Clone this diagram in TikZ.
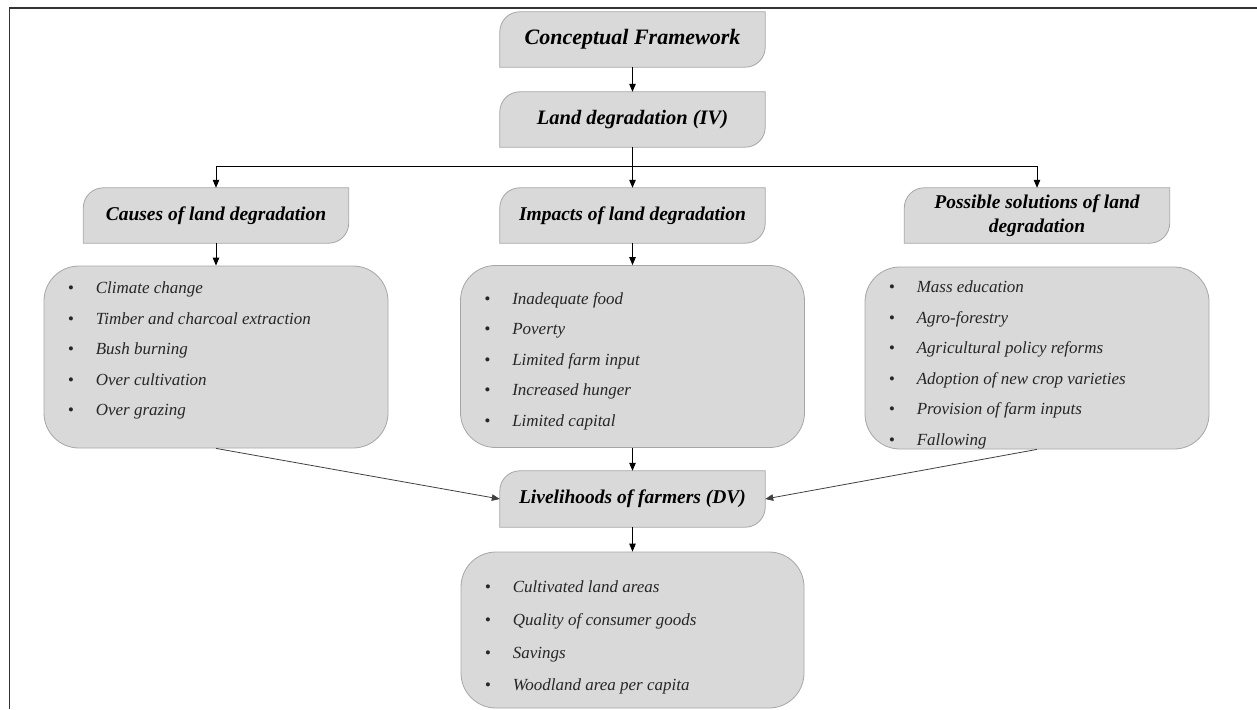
\documentclass[tikz,border=0pt]{standalone}
\usepackage{fontspec}
\setmainfont{Liberation Serif}
\usetikzlibrary{arrows.meta,backgrounds}
\definecolor{boxfill}{HTML}{D9D9D9}
\definecolor{boxline}{HTML}{A6A6A6}
\definecolor{itemtext}{HTML}{262626}
\newcommand{\itm}[1]{\makebox[28pt][l]{\textbullet}#1}
\tikzset{
	head node/.style={minimum width=265pt, minimum height=55pt, inner sep=2pt, align=center, font=\fontsize{19.5}{24}\selectfont\bfseries\itshape},
	head shape/.style={draw=boxline, fill=boxfill, line width=0.8pt},
	list box/.style={draw=boxline, fill=boxfill, line width=0.8pt, rounded corners=35pt, minimum width=344pt, minimum height=182pt},
	list items/.style={anchor=north west, inner sep=0pt, align=left, font=\fontsize{17}{30.5}\selectfont\itshape, text=itemtext},
	arr/.style={-{Triangle[length=8pt,width=6.5pt]}, line width=0.8pt},
	link/.style={arr, draw=black!75},
	frame line/.style={draw=black!80, line width=1.6pt},
}

\begin{document}
\begin{tikzpicture}[x=1pt, y=-1pt]
  \useasboundingbox (0,0) rectangle (1257,709);
  \draw[frame line] (9.5,709) -- (9.5,8) -- (1257,8);

  % headers
  \node[head node, font=\fontsize{22}{26}\selectfont\bfseries\itshape] (cf) at (632.5,39.5) {Conceptual Framework};
  \node[head node, font=\fontsize{20.5}{24}\selectfont\bfseries\itshape] (ld) at (632.5,119.5) {Land degradation (IV)};
  \node[head node] (cause) at (216,215.5) {Causes of land degradation};
  \node[head node] (impact) at (632.5,215.5) {Impacts of land degradation};
  \node[head node] (sol) at (1037,215.5) {Possible solutions of land\\degradation};
  \node[head node, minimum height=56pt] (live) at (632.5,499) {Livelihoods of farmers (DV)};

  % lists
  \node[list box] (causelist) at (216,357) {};
  \node[list items] (causeitems) at ([shift={(24,16)}]causelist.north west) {\itm{Climate change}\\\itm{Timber and charcoal extraction}\\\itm{Bush burning}\\\itm{Over cultivation}\\\itm{Over grazing}};
  \node[list box] (impactlist) at (632.5,356.5) {};
  \node[list items] (impactitems) at ([shift={(24,27)}]impactlist.north west) {\itm{Inadequate food}\\\itm{Poverty}\\\itm{Limited farm input}\\\itm{Increased hunger}\\\itm{Limited capital}};
  \node[list box] (sollist) at (1037,358) {};
  \node[list items] (solitems) at ([shift={(24,14)}]sollist.north west) {\itm{Mass education}\\\itm{Agro-forestry}\\\itm{Agricultural policy reforms}\\\itm{Adoption of new crop varieties}\\\itm{Provision of farm inputs}\\\itm{Fallowing}};
  \node[list box, minimum width=343pt, minimum height=156pt] (livelist) at (632.5,630) {};
  \node[list items, font=\fontsize{17}{32.7}\selectfont\itshape] (liveitems) at ([shift={(24,29)}]livelist.north west) {\itm{Cultivated land areas}\\\itm{Quality of consumer goods}\\\itm{Savings}\\\itm{Woodland area per capita}};

  % header shapes
  \begin{scope}[on background layer]
    \foreach \n in {cf,ld,cause,impact,sol,live}
      \draw[head shape] (\n.north) -- (\n.north east) [rounded corners=20pt] -- (\n.south east) [sharp corners] -- (\n.south west) [rounded corners=20pt] -- (\n.north west) [sharp corners] -- cycle;
  \end{scope}

  % connectors
  \coordinate (split) at (632.5,166);
  \draw[arr] (cf) -- (ld);
  \draw[line width=0.8pt] (ld.south) -- (split);
  \draw[line width=0.8pt] (cause.north |- split) -- (sol.north |- split);
  \foreach \n in {cause,impact,sol}
    \draw[arr] (\n.north |- split) -- (\n.north);
  \draw[arr] (cause) -- (causelist);
  \draw[arr] (impact) -- (impactlist);
  \draw[arr] (impactlist) -- (live);
  \draw[link] (causelist.south) -- (live.west);
  \draw[link] (sollist.south) -- (live.east);
  \draw[arr] (live) -- (livelist);
\end{tikzpicture}
\end{document}
